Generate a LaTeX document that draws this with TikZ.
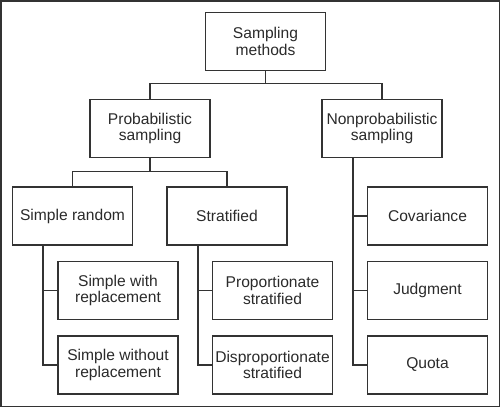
\documentclass[tikz,border=0pt]{standalone}
\usepackage{fontspec}
\setmainfont{Liberation Sans}
\definecolor{ink}{HTML}{2A2A2A}
\definecolor{linec}{HTML}{333333}
\begin{document}
\begin{tikzpicture}[x=1pt,y=-1pt,
  box/.style={draw=linec, line width=1.1pt, minimum width=120pt, minimum height=58pt,
    inner sep=0pt, align=center, text=ink, font=\fontsize{15.6}{16.8}\selectfont},
  conn/.style={draw=linec, line width=1.1pt}]
\useasboundingbox (0,0) rectangle (500,407);
\draw[linec, line width=1.4pt] (0.8,0.8) rectangle (499.2,406.2);
\node[box] (root) at (265.5,41.5) {Sampling\\methods};
\node[box] (prob) at (150,128.5) {Probabilistic\\sampling};
\node[box] (nonprob) at (382,128.5) {Nonprobabilistic\\sampling};
\node[box] (sr) at (72.5,216) {Simple random};
\node[box] (strat) at (227,216) {Stratified};
\node[box] (cov) at (427.5,216) {Covariance};
\node[box] (swr) at (118,290.5) {Simple with\\replacement};
\node[box] (swor) at (118,365) {Simple without\\replacement};
\node[box] (prop) at (272.5,290.5) {Proportionate\\stratified};
\node[box] (disp) at (272.5,365) {Disproportionate\\stratified};
\node[box] (judg) at (427.5,290.5) {Judgment};
\node[box] (quota) at (427.5,365) {Quota};
\coordinate (rj) at ([yshift=-12pt]root.south);
\coordinate (pj) at ([yshift=-13pt]prob.south);
\draw[conn] (root.south) -- (rj) -| (prob.north);
\draw[conn] (rj) -| (nonprob.north);
\draw[conn] (prob.south) -- (pj) -| (sr.north);
\draw[conn] (pj) -| (strat.north);
\coordinate (sra) at ([xshift=-29.5pt]sr.south);
\coordinate (sta) at ([xshift=-29pt]strat.south);
\coordinate (npa) at ([xshift=-29pt]nonprob.south);
\draw[conn] (sra) |- (swr.west);
\draw[conn] (sra) |- (swor.west);
\draw[conn] (sta) |- (prop.west);
\draw[conn] (sta) |- (disp.west);
\draw[conn] (npa) |- (cov.west);
\draw[conn] (npa) |- (judg.west);
\draw[conn] (npa) |- (quota.west);
\end{tikzpicture}
\end{document}
